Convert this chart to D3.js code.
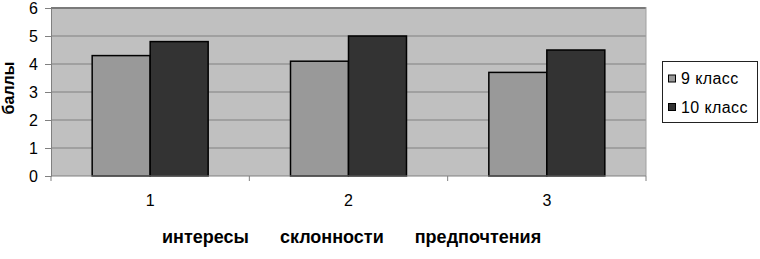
<!DOCTYPE html>
<html>
<head>
<meta charset="utf-8">
<script src="https://cdn.jsdelivr.net/npm/d3@7"></script>
<style>
  body { margin: 0; background: #fff; }
  text { font-family: "Liberation Sans", Arial, sans-serif; }
</style>
</head>
<body>
<svg id="chart" width="760" height="259"></svg>
<script>
// chart data
const categories = ['1', '2', '3'];
const categoryNames = ['интересы', 'склонности', 'предпочтения'];
const seriesNames = ['9 класс', '10 класс'];
const grade9 = [4.3, 4.1, 3.7];
const grade10 = [4.8, 5.0, 4.5];
const yTicks = [0, 1, 2, 3, 4, 5, 6];
const seriesColors = ['#999999', '#333333'];

const svg = d3.select('#chart');
const margin = { top: 8, left: 51, right: 646, bottom: 176 };

// scales
const x0 = d3.scaleBand()
    .domain(categories)
    .range([margin.left, margin.right])
    .padding(0);

const x1 = d3.scaleBand()
    .domain(seriesNames)
    .range([0, x0.bandwidth()])
    .paddingInner(0)
    .paddingOuter(0.71);

const y = d3.scaleLinear()
    .domain([0, 6])
    .range([margin.bottom, margin.top]);

// plot background
svg.append('rect')
    .attr('x', margin.left)
    .attr('y', margin.top)
    .attr('width', margin.right - margin.left)
    .attr('height', margin.bottom - margin.top)
    .attr('fill', '#c0c0c0');

// gridlines
svg.append('g')
    .selectAll('line')
    .data(yTicks.filter(d => d > 0))
    .join('line')
    .attr('x1', margin.left)
    .attr('x2', margin.right)
    .attr('y1', d => y(d))
    .attr('y2', d => y(d))
    .attr('stroke', d => d === 6 ? '#7a7a7a' : '#808080')
    .attr('stroke-width', d => d === 6 ? 2 : 1);

// right border
svg.append('line')
    .attr('x1', margin.right)
    .attr('x2', margin.right)
    .attr('y1', margin.top - 1)
    .attr('y2', margin.bottom)
    .attr('stroke', '#a0a0a0')
    .attr('stroke-width', 1);

// bars
const rows = categories.map((c, i) => ({ cat: c, values: [grade9[i], grade10[i]] }));

svg.append('g')
    .selectAll('g')
    .data(rows)
    .join('g')
    .attr('transform', d => `translate(${x0(d.cat)},0)`)
    .selectAll('rect')
    .data(d => d.values.map((v, j) => ({ key: seriesNames[j], value: v, color: seriesColors[j] })))
    .join('rect')
    .attr('x', d => x1(d.key))
    .attr('y', d => y(d.value))
    .attr('width', x1.bandwidth())
    .attr('height', d => y(0) - y(d.value))
    .attr('fill', d => d.color)
    .attr('stroke', '#000')
    .attr('stroke-width', 1.5);

// y axis
const yAxis = svg.append('g')
    .attr('transform', `translate(${margin.left},0)`)
    .call(d3.axisLeft(y).tickValues(yTicks).tickFormat(d3.format('d')).tickSize(6).tickPadding(7));
yAxis.select('.domain').attr('stroke', '#808080');
yAxis.selectAll('.tick line').attr('stroke', '#808080');
yAxis.selectAll('.tick text')
    .attr('font-size', 16)
    .attr('fill', '#000')
    .attr('font-family', '"Liberation Sans", Arial, sans-serif');

// x axis line and boundary ticks
svg.append('line')
    .attr('x1', margin.left)
    .attr('x2', margin.right)
    .attr('y1', margin.bottom)
    .attr('y2', margin.bottom)
    .attr('stroke', '#808080');

const bounds = categories.map(c => x0(c)).concat([margin.right]);
svg.append('g')
    .selectAll('line')
    .data(bounds)
    .join('line')
    .attr('x1', d => d)
    .attr('x2', d => d)
    .attr('y1', margin.bottom)
    .attr('y2', margin.bottom + 5)
    .attr('stroke', '#808080');

svg.append('g')
    .selectAll('text')
    .data(categories)
    .join('text')
    .attr('x', d => x0(d) + x0.bandwidth() / 2)
    .attr('y', 206)
    .attr('text-anchor', 'middle')
    .attr('font-size', 16)
    .text(d => d);

// category names under the axis
const names = svg.append('g');
let cursor = 162;
categoryNames.forEach(n => {
    const t = names.append('text')
        .attr('x', cursor)
        .attr('y', 243)
        .attr('font-size', 18)
        .attr('font-weight', 'bold')
        .text(n);
    cursor += t.node().getComputedTextLength() + 31;
});

// y axis title
svg.append('text')
    .attr('transform', 'translate(14,88) rotate(-90)')
    .attr('text-anchor', 'middle')
    .attr('font-size', 16)
    .attr('font-weight', 'bold')
    .text('баллы');

// legend
const legend = svg.append('g');
legend.append('rect')
    .attr('x', 662.5)
    .attr('y', 61.5)
    .attr('width', 95)
    .attr('height', 61)
    .attr('fill', '#fff')
    .attr('stroke', '#222')
    .attr('stroke-width', 1);

seriesNames.forEach((s, i) => {
    const cy = 78.5 + i * 28.5;
    legend.append('rect')
        .attr('x', 668.5)
        .attr('y', cy - 3.5)
        .attr('width', 7)
        .attr('height', 7)
        .attr('fill', seriesColors[i])
        .attr('stroke', '#000')
        .attr('stroke-width', 1);
    legend.append('text')
        .attr('x', 681)
        .attr('y', cy + 5.5)
        .attr('font-size', 16)
        .attr('letter-spacing', 0.4)
        .text(s);
});
</script>
</body>
</html>
